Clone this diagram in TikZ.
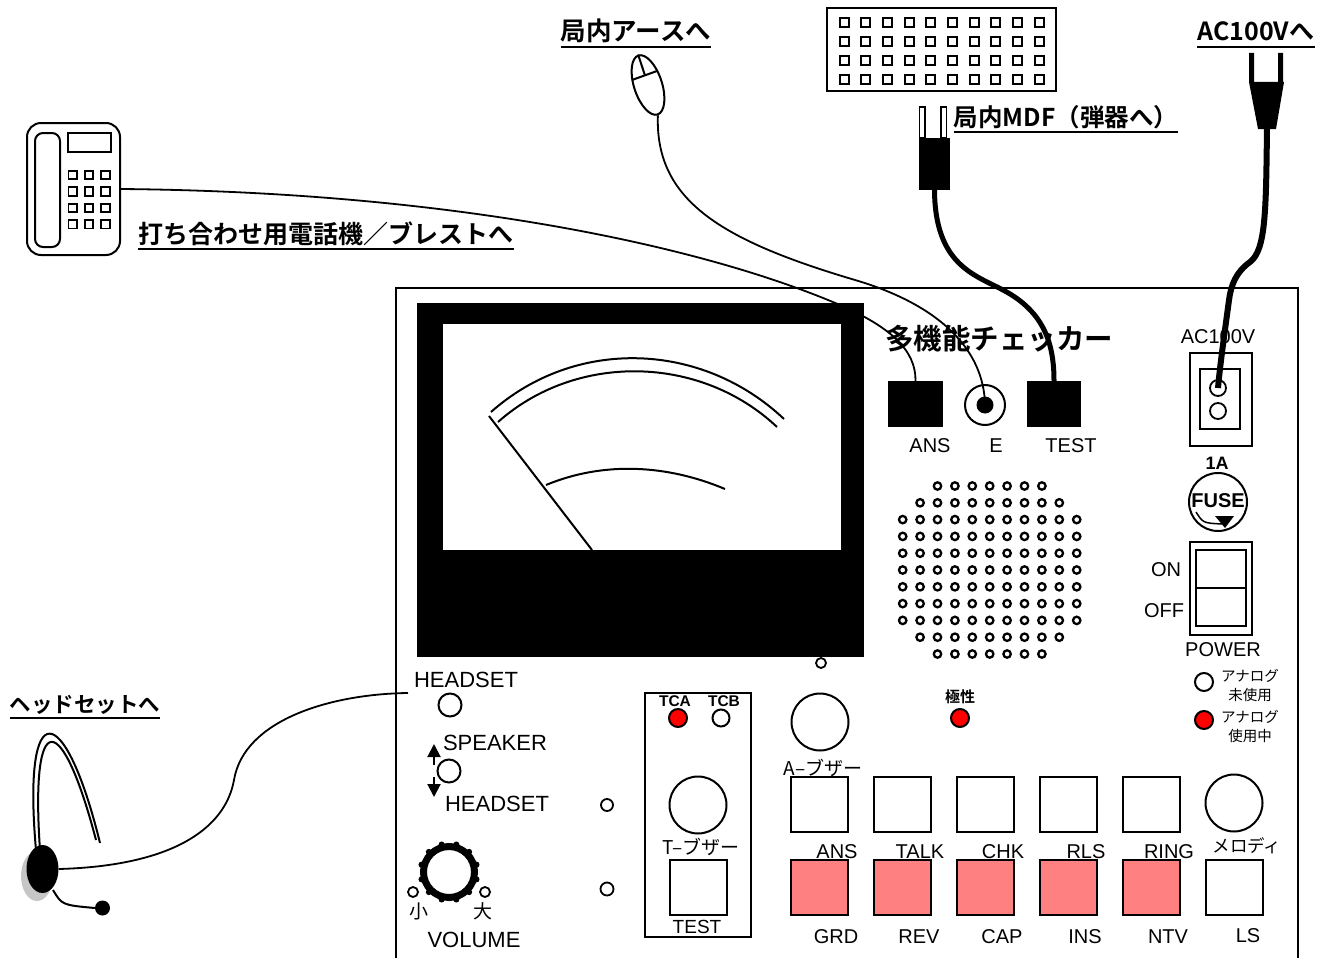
\documentclass[tikz,border=0pt]{standalone}
\usepackage{fontspec}
\setmainfont{Liberation Sans}
\newfontfamily\jp{Noto Sans CJK JP}
\newfontfamily\jpb{Noto Sans CJK JP Bold}
\usetikzlibrary{shapes.geometric,arrows.meta}
\definecolor{keyred}{RGB}{255,128,128}
\tikzset{
  every node/.style={inner sep=0pt},
  lbl/.style={font=\fontsize{20}{20}\selectfont},
  biglbl/.style={font=\fontsize{22}{22}\selectfont},
  jlbl/.style={font=\jp\fontsize{19}{19}\selectfont},
  heading/.style={font=\jpb\fontsize{#1}{#1}\selectfont, anchor=base},
  uline/.style={line width=2pt},
  keycap/.style={draw, line width=2pt, minimum width=57pt, minimum height=55pt},
  redkey/.style={keycap, fill=keyred},
  led/.style={circle, draw, line width=2pt, minimum size=18pt},
  hole/.style={circle, draw, line width=1.8pt, minimum size=#1},
  buzzer/.style={circle, draw, line width=2pt, minimum size=57pt},
  cord/.style={line width=1.8pt},
}

\begin{document}
\begin{tikzpicture}[x=1pt,y=-1pt]
  \useasboundingbox (0,0) rectangle (1326,958);

  % checker case
  \draw[line width=2pt] (396,960) -- (396,288) -- (1298,288) -- (1298,960);

  % analog meter
  \fill (417,303) rectangle (864,657);
  \fill[white] (443,324) rectangle (841,550);
  \draw[line width=2pt] (491,412) .. controls (575.5,337) and (701.8,341.4) .. (784,419);
  \draw[line width=2pt] (498,422) .. controls (576.5,352.3) and (700.7,354.9) .. (777,427);
  \draw[line width=2pt] (546,485) .. controls (603.8,461) and (667.3,464.7) .. (725,489);
  \draw[line width=2pt] (489,416) -- (592,550);
  \node[hole=10pt] (zeroadj) at (821,663) {};

  % line jacks
  \node[font=\jpb\fontsize{28.5}{28.5}\selectfont] (title) at (999,339) {多機能チェッカー};
  \node[fill, minimum width=55pt, minimum height=46pt] (ansjack) at (915.5,404) {};
  \node[circle, draw, line width=2pt, minimum size=40pt] (ejack) at (985,405) {};
  \fill (ejack.center) circle (8.5pt);
  \node[fill, minimum width=54pt, minimum height=46pt] (testjack) at (1054,404) {};
  \node[lbl] at (930,446) {ANS};
  \node[lbl] at (996,446) {E};
  \node[lbl] at (1071,446) {TEST};

  % power inlet, fuse and switch
  \node[lbl] at (1218,337) {AC100V};
  \node[draw, line width=2pt, minimum width=62pt, minimum height=93pt] (inlet) at (1221,399.5) {};
  \draw[line width=2pt] (1200,369) rectangle (1240,429);
  \node[hole=16pt] (acout) at (1218,388) {};
  \node[hole=16pt] at (1218,411) {};
  \node[font=\bfseries\fontsize{18}{18}\selectfont] at (1217,463) {1A};
  \node[circle, draw, line width=2pt, minimum size=58pt] (fuse) at (1218,502) {};
  \node[font=\bfseries\fontsize{20}{20}\selectfont] at (1218,501) {FUSE};
  \draw[line width=1.5pt] (1196,512) .. controls (1203,523) .. (1222,524);
  \fill (1215,516) -- (1234,516) -- (1225,528) -- cycle;
  \node[draw, line width=2pt, minimum width=62pt, minimum height=93pt] (power) at (1221,588.5) {};
  \draw[line width=2pt] (1196,550) rectangle (1246,626) (1196,588) -- (1246,588);
  \node[lbl] at (1166,570) {ON};
  \node[lbl] at (1164,611) {OFF};
  \node[lbl] at (1223,650) {POWER};

  % analog lamps
  \node[led] (analogoff) at (1204,682) {};
  \node[font=\jp\fontsize{14.5}{19}\selectfont, align=center] at (1250,685.5) {アナログ\\未使用};
  \node[led, fill=red] (analogon) at (1204,720) {};
  \node[font=\jp\fontsize{14.5}{19}\selectfont, align=center] at (1250,726.5) {アナログ\\使用中};

  % polarity lamp
  \node[font=\jpb\fontsize{15}{15}\selectfont] at (960,697) {極性};
  \node[led, fill=red] (polarity) at (960,718) {};

  % speaker grille
  \foreach \r/\a/\b in {0/2/8,1/1/9,2/0/10,3/0/10,4/0/10,5/0/10,6/0/10,7/0/10,8/0/10,9/1/9,10/2/8}
    \foreach \c in {\a,...,\b}
      \draw[line width=2.3pt] (902.7+17.4*\c,486+16.8*\r) circle (3.7pt);

  % headset / speaker selector
  \node[biglbl] at (466,680) {HEADSET};
  \node[circle, draw, line width=2pt, minimum size=23pt] (hsjack) at (450,705) {};
  \coordinate (hsin) at (408,693);
  \node[biglbl] at (495,743) {SPEAKER};
  \node[circle, draw, line width=2pt, minimum size=23pt] (spksel) at (449,771) {};
  \draw[line width=2pt, -{Triangle[width=13pt,length=13pt]}] (434,765) -- (434,744);
  \draw[line width=2pt, -{Triangle[width=13pt,length=13pt]}] (434,777) -- (434,797);
  \node[biglbl] at (497,804) {HEADSET};
  \node[hole=12pt] at (607,805) {};
  \node[hole=13pt] at (607,889) {};

  % volume knob
  \draw[line width=7pt] (449,872) circle (25.5pt);
  \foreach \a in {15,45,...,345}
    \fill (449,872) ++(\a:28.5pt) circle (3pt);
  \node[hole=10pt] at (413,892) {};
  \node[hole=10pt] at (485,892) {};
  \node[jlbl] at (419,911) {小};
  \node[jlbl] at (483,911) {大};
  \node[biglbl] at (474,940) {VOLUME};

  % test unit
  \draw[line width=2pt] (645,693) rectangle (751,937);
  \node[font=\bfseries\fontsize{15.5}{15.5}\selectfont] at (675,701) {TCA};
  \node[font=\bfseries\fontsize{15.5}{15.5}\selectfont] at (724,701) {TCB};
  \node[led, fill=red] (tca) at (678,718) {};
  \node[led, minimum size=17pt] (tcb) at (721,718) {};
  \node[buzzer] (tbuzz) at (698,805) {};
  \node[jlbl] at (701,847) {T–ブザー};
  \node[keycap] (keytest) at (698.5,887.5) {};
  \node[font=\fontsize{19}{19}\selectfont] at (697,927) {TEST};

  % keys
  \node[buzzer] (abuzz) at (820,722) {};
  \node[jlbl] at (823,768) {A–ブザー};
  \foreach \x/\t/\b in {791/ANS/GRD,874/TALK/REV,957/CHK/CAP,1040/RLS/INS,1123/RING/NTV} {
    \node[keycap] (key\t) at (\x+28.5,804.5) {};
    \node[redkey] (key\b) at (\x+28.5,887.5) {};
    \node[lbl] at (\x+46,852) {\t};
    \node[lbl] at (\x+45,937) {\b};
  }
  \node[buzzer] (melody) at (1234,803) {};
  \node[font=\jp\fontsize{17.5}{17.5}\selectfont] at (1247,846) {メロディ};
  \node[keycap] (keyLS) at (1234,887.5) {};
  \node[lbl] at (1248,936) {LS};

  % telephone
  \node[draw, line width=2pt, rounded corners=14pt, minimum width=93pt, minimum height=132pt] (phone) at (73.5,189) {};
  \draw[line width=2pt, rounded corners=8pt] (35,133) rectangle (60,247);
  \draw[line width=2pt] (68,133) rectangle (111,152);
  \foreach \i in {0,1,2}
    \foreach \j in {0,...,3}
      \draw[line width=1.8pt] (68.5+16.3*\i,170.8+16.4*\j) rectangle +(8.5,8.5);

  % MDF frame and plug
  \node[draw, line width=2pt, minimum width=229pt, minimum height=83pt] (mdf) at (941.5,49.5) {};
  \foreach \i in {0,...,9}
    \foreach \j in {0,...,3}
      \draw[line width=2pt] (839.5+21.7*\i,18.5+19*\j) rectangle +(9,9);
  \draw[line width=1.5pt] (919.5,107) rectangle (925,138) (941,107) rectangle (946.5,138);
  \node[fill, minimum width=31pt, minimum height=52pt] (mdfplug) at (934.5,164) {};

  % earth clip
  \node[ellipse, draw, line width=2pt, minimum width=28pt, minimum height=62pt, rotate=18] (mouse) at (648,85) {};
  \draw[line width=2pt] (632,80) -- (657,71) (mouse.north) -- (645,75.5);

  % mains plug
  \fill (1249,53) rectangle (1254,82) (1278,53) rectangle (1283,82);
  \fill (1249,82) -- (1284,82) -- (1276,129) -- (1258,129) -- cycle;
  \coordinate (acplug) at (1267,127);

  % headset
  \draw[line width=2pt] (36,850) .. controls (22,692) and (65,700) .. (100,843);
  \draw[line width=2pt] (40,850) .. controls (30,705) and (62,710) .. (96,840);
  \fill[gray!45] (37,876) ellipse (16pt and 25pt);
  \node[ellipse, fill, minimum width=32pt, minimum height=48pt] (earpc) at (42.5,869) {};
  \node[circle, fill, minimum size=15pt] (mic) at (102.5,908) {};
  \draw[line width=2pt] (53,890) .. controls (62,905) .. (mic.west);

  % cords
  \draw[cord] (phone.east) .. controls (450,192) and (700,245) .. (840,305)
    .. controls (890,327) and (916,350) .. (ansjack.north);
  \draw[cord] (mouse.south) .. controls (655,200) and (720,240) .. (855,280)
    .. controls (940,305) and (984,350) .. (ejack.center);
  \draw[line width=5pt] (mdfplug.south) .. controls (935,265) and (975,275) .. (1003,290)
    .. controls (1045,312) and (1054,345) .. (testjack.north);
  \draw[line width=6pt] (acplug) .. controls (1266,210) and (1266,250) .. (1250,262)
    .. controls (1236,272) and (1231,285) .. (1229,300)
    .. controls (1225,330) and (1220,365) .. (acout.center);
  \draw[cord] (earpc.east) .. controls (170,866) and (225,830) .. (234,780)
    .. controls (244,720) and (330,694) .. (hsin);

  % headings
  \node[heading=25] (hphone) at (326,243) {打ち合わせ用電話機／ブレストへ};
  \node[heading=25.5] (hearth) at (636,41) {局内アースへ};
  \node[heading=24.5] (hmdf) at (1066,126) {局内MDF（弾器へ）};
  \node[heading=25] (hac) at (1256,41) {AC100Vへ};
  \node[heading=21.5] (hhead) at (85,712) {ヘッドセットへ};
  \foreach \h in {hphone,hearth,hmdf,hac,hhead}
    \draw[uline] ([yshift=-6pt]\h.base west) -- ([yshift=-6pt]\h.base east);
\end{tikzpicture}
\end{document}
